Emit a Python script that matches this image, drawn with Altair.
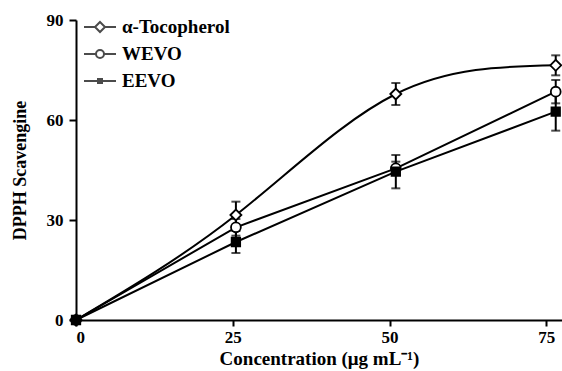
import altair as alt
import pandas as pd

series = ["α-Tocopherol", "WEVO", "EEVO"]
conc = [0, 25.5, 51, 76.5]
toc = [0, 31.5, 67.8, 76.4]
toc_err = [0, 4.0, 3.3, 3.0]
wevo = [0, 27.8, 45.5, 68.5]
wevo_err = [0, 2.5, 2.0, 3.5]
eevo = [0, 23.4, 44.5, 62.5]
eevo_err = [0, 3.3, 5.0, 5.7]

rows = []
for name, vals, errs in [(series[0], toc, toc_err), (series[1], wevo, wevo_err), (series[2], eevo, eevo_err)]:
    for i, (c, v, e) in enumerate(zip(conc, vals, errs)):
        rows.append({"series": name, "order": i, "conc": c, "val": v, "err": e,
                     "lo": v - e, "hi": v + e})
df = pd.DataFrame(rows)

FONT = "Liberation Serif"
xs = alt.Scale(domain=[0, 77.5], nice=False, zero=False)
ys = alt.Scale(domain=[0, 90], nice=False)

x_enc = alt.X("conc:Q", scale=xs,
              axis=alt.Axis(values=[0, 25, 50, 75], title="Concentration (μg mL⁻¹)",
                            titlePadding=4, titleFontSize=19, labelPadding=3))
y_enc = alt.Y("val:Q", scale=ys,
              axis=alt.Axis(values=[0, 30, 60, 90], title="DPPH Scavengine",
                            titlePadding=17, labelPadding=6, tickSize=7))

base = alt.Chart(df)

line_toc = base.transform_filter(alt.datum.series == series[0]).mark_line(
    color="black", strokeWidth=2, interpolate="natural").encode(
    x=x_enc, y=y_enc, order="order:Q")
line_other = base.transform_filter(alt.datum.series != series[0]).mark_line(
    color="black", strokeWidth=2).encode(
    x=x_enc, y=y_enc, detail="series:N", order="order:Q")

errs = base.transform_filter(alt.datum.err > 0)
rule = errs.mark_rule(color="black", strokeWidth=2).encode(
    x="conc:Q", y="lo:Q", y2="hi:Q")
cap_lo = errs.mark_tick(color="black", orient="horizontal", size=9, thickness=2).encode(
    x="conc:Q", y="lo:Q")
cap_hi = errs.mark_tick(color="black", orient="horizontal", size=9, thickness=2).encode(
    x="conc:Q", y="hi:Q")

points = base.mark_point(filled=False, stroke="black", strokeWidth=1.8, opacity=1).encode(
    x="conc:Q", y="val:Q",
    shape=alt.Shape("series:N", scale=alt.Scale(domain=series, range=["diamond", "circle", "square"]), legend=None),
    fill=alt.Fill("series:N", scale=alt.Scale(domain=series, range=["white", "white", "black"]), legend=None),
    size=alt.Size("series:N", scale=alt.Scale(domain=series, range=[121, 72, 28]), legend=None),
)

leg_paths = [
    "M-1.6,0 L-0.5,0 M0.5,0 L1.6,0 M0,-0.5 L0.5,0 L0,0.5 L-0.5,0 Z",
    "M-1.6,0 L-0.4,0 M0.4,0 L1.6,0 M0.4,0 A0.4,0.4 0 1,1 -0.4,0 A0.4,0.4 0 1,1 0.4,0 Z",
    "M-1.6,0 L1.6,0 M-0.2,-0.2 L0.2,-0.2 L0.2,0.2 L-0.2,0.2 Z M-0.1,-0.1 L0.1,-0.1 L0.1,0.1 L-0.1,0.1 Z",
]
legend_layer = base.transform_filter("false").mark_point(
    filled=False, color="black", strokeWidth=2).encode(
    x="conc:Q", y="val:Q",
    shape=alt.Shape("legend_series:N",
                    scale=alt.Scale(domain=series, range=leg_paths),
                    legend=alt.Legend(title=None, orient="none", legendX=13, legendY=-4,
                                      padding=0, symbolSize=400, symbolStrokeWidth=2,
                                      symbolStrokeColor="black", symbolFillColor="transparent",
                                      labelFont=FONT, labelFontSize=19, labelFontWeight="bold",
                                      labelColor="black", labelOffset=11, rowPadding=6)),
).transform_calculate(legend_series="datum.series")

chart = alt.layer(line_toc, line_other, rule, cap_lo, cap_hi, points, legend_layer).resolve_scale(
    shape="independent", fill="independent", size="independent"
).properties(
    width=486, height=300,
    padding={"left": 76, "top": 20, "right": 0, "bottom": 51},
    autosize=alt.AutoSizeParams(type="none"),
    background="white",
).configure_view(stroke=None).configure_axis(
    grid=False, domainColor="black", domainWidth=2, tickColor="black", tickWidth=2,
    tickSize=6, labelFont=FONT, labelFontSize=17, labelFontWeight="bold", labelColor="black",
    titleFont=FONT, titleFontSize=18, titleFontWeight="bold", titleColor="black",
)

chart.save("out.html", embed_options={"renderer": "svg", "actions": False})
